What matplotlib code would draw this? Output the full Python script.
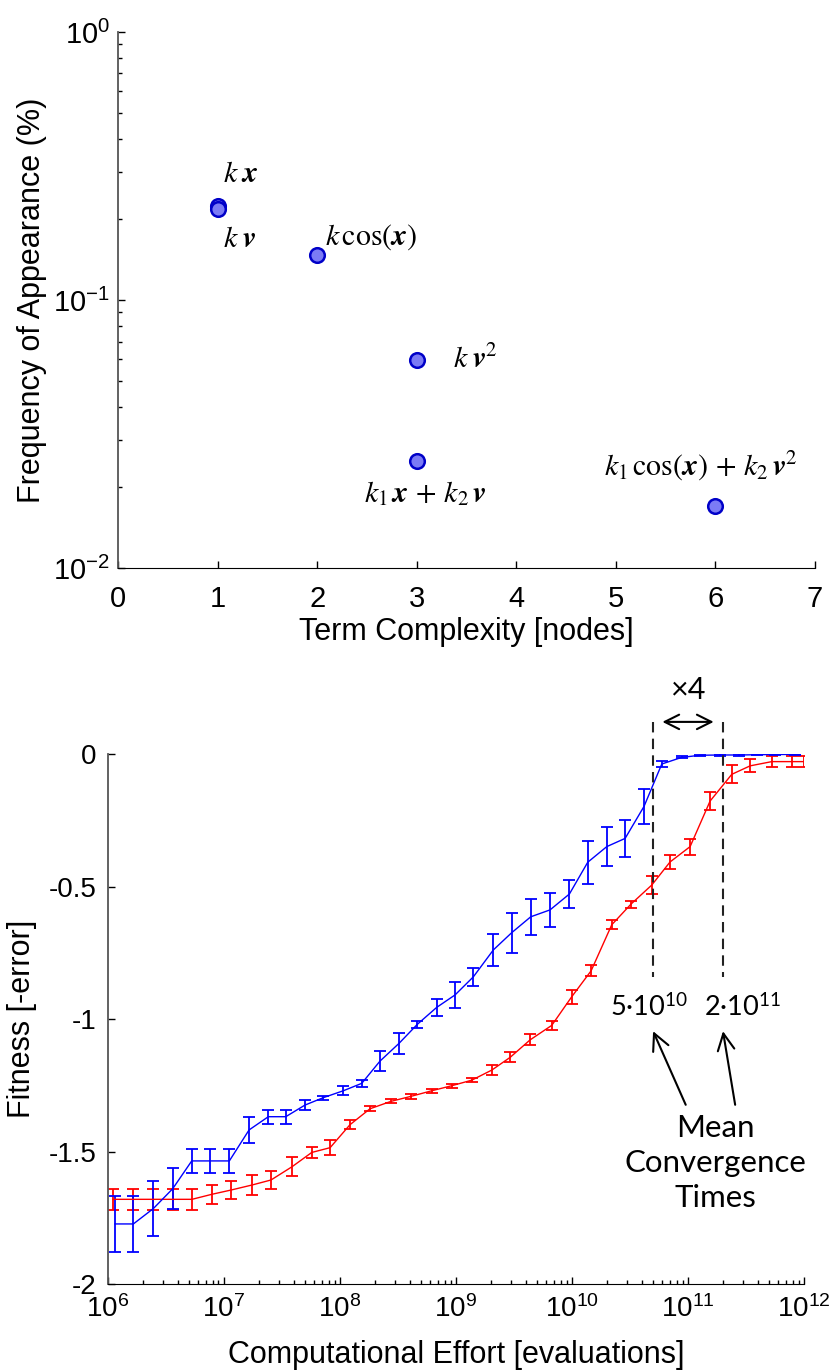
import numpy as np
import matplotlib
matplotlib.use("Agg")
import matplotlib.pyplot as plt
from matplotlib.ticker import FixedLocator, NullFormatter, FormatStrFormatter, LogFormatterSciNotation

plt.rcParams['font.family'] = ['Liberation Sans', 'DejaVu Sans']
plt.rcParams['mathtext.fontset'] = 'stix'
plt.rcParams['axes.unicode_minus'] = False

# --- top panel: how often each term shows up vs its size ---
complexity = [1, 1, 2, 3, 3, 6]
frequency = [0.224, 0.219, 0.147, 0.0597, 0.0251, 0.0171]
term_labels = [r'$k\;\boldsymbol{x}$', r'$k\;\boldsymbol{v}$', r'$k\,\cos(\boldsymbol{x})$',
               r'$k\;\boldsymbol{v}^2$', r'$k_1\,\boldsymbol{x}\,+\,k_2\,\boldsymbol{v}$',
               r'$k_1\,\cos(\boldsymbol{x})\,+\,k_2\,\boldsymbol{v}^2$']

# --- bottom panel: fitness vs computational effort ---
blue_log_effort = [6.063, 6.221, 6.393, 6.560, 6.724, 6.882, 7.048, 7.218, 7.384, 7.534,
                   7.700, 7.858, 8.030, 8.189, 8.346, 8.510, 8.668, 8.835, 8.993, 9.150,
                   9.323, 9.481, 9.645, 9.811, 9.978, 10.136, 10.300, 10.458, 10.621, 10.774,
                   10.946, 11.104, 11.276, 11.440, 11.592, 11.750, 11.922]
blue_fitness = [-1.773, -1.773, -1.715, -1.640, -1.535, -1.535, -1.535, -1.418, -1.368, -1.368,
                -1.324, -1.296, -1.270, -1.242, -1.158, -1.091, -1.019, -0.955, -0.908, -0.840,
                -0.738, -0.673, -0.613, -0.587, -0.527, -0.407, -0.348, -0.317, -0.196, -0.036,
                -0.011, -0.003, -0.002, -0.002, -0.001, 0.0, 0.0]
blue_err = [0.105, 0.105, 0.103, 0.078, 0.044, 0.044, 0.044, 0.050, 0.026, 0.026,
            0.018, 0.008, 0.017, 0.014, 0.039, 0.039, 0.014, 0.031, 0.048, 0.033,
            0.060, 0.075, 0.069, 0.063, 0.054, 0.081, 0.074, 0.069, 0.066, 0.010,
            0.004, 0.002, 0.002, 0.002, 0.001, 0.001, 0.001]

red_log_effort = [6.046, 6.218, 6.390, 6.563, 6.726, 6.898, 7.062, 7.243, 7.407, 7.588,
                  7.758, 7.916, 8.088, 8.260, 8.441, 8.614, 8.792, 8.964, 9.137, 9.309,
                  9.467, 9.639, 9.826, 9.998, 10.165, 10.343, 10.509, 10.688, 10.845, 11.018,
                  11.190, 11.377, 11.535, 11.722, 11.894, 12.0]
red_fitness = [-1.680, -1.680, -1.680, -1.680, -1.680, -1.661, -1.645, -1.626, -1.607, -1.557,
               -1.503, -1.485, -1.398, -1.338, -1.310, -1.291, -1.270, -1.251, -1.230, -1.192,
               -1.144, -1.078, -1.023, -0.915, -0.817, -0.643, -0.565, -0.493, -0.406, -0.348,
               -0.176, -0.075, -0.043, -0.027, -0.027, -0.027]
red_err = [0.040, 0.040, 0.040, 0.040, 0.040, 0.036, 0.034, 0.037, 0.033, 0.035,
           0.022, 0.028, 0.018, 0.010, 0.008, 0.009, 0.008, 0.007, 0.008, 0.019,
           0.019, 0.021, 0.018, 0.026, 0.021, 0.018, 0.013, 0.033, 0.028, 0.030,
           0.035, 0.034, 0.024, 0.022, 0.022, 0.022]

convergence = [5e10, 2e11]
convergence_labels = ['5\u00b710$^{\\mathdefault{10}}$', '2\u00b710$^{\\mathdefault{11}}$']


def log_minor(lo, hi):
    return [m * 10.0 ** e for e in range(lo, hi) for m in range(2, 10)]


fig = plt.figure(figsize=(8.33, 13.72), dpi=100)

# ---------------- top ----------------
ax1 = fig.add_axes([0.142, 0.586, 0.836, 0.3907])
ax1.set_yscale('log')
ax1.plot(complexity, frequency, 'o', ms=10.5, mfc='#7b7bf5', mec='#0000c8', mew=1.8,
         clip_on=False, zorder=3)

# label offsets in pixels from each point, and horizontal alignment
label_offsets = [(5, 32, 'left'), (5, -30, 'left'), (8, 18, 'left'),
                 (36, 0, 'left'), (8, -33, 'center'), (-14, 39, 'center')]
for x, y, lab, (dx, dy, ha) in zip(complexity, frequency, term_labels, label_offsets):
    ax1.annotate(lab, (x, y), xytext=(dx, dy), textcoords='offset pixels',
                 ha=ha, va='center', fontsize=21.5)

ax1.set_xlim(0, 7)
ax1.set_ylim(1e-2, 1)
ax1.set_xticks(range(8))
ax1.yaxis.set_major_locator(FixedLocator([1e-2, 1e-1, 1e0]))
ax1.yaxis.set_major_formatter(LogFormatterSciNotation())
ax1.yaxis.set_minor_locator(FixedLocator(log_minor(-2, 0)))
ax1.yaxis.set_minor_formatter(NullFormatter())
ax1.tick_params(which='major', direction='in', length=5, width=1, labelsize=21)
ax1.tick_params(axis='x', pad=12)
ax1.tick_params(axis='y', pad=6)
ax1.tick_params(which='minor', direction='in', length=3, width=1)
ax1.set_xlabel('Term Complexity [nodes]', fontsize=22)
ax1.set_ylabel('Frequency of Appearance (%)', fontsize=22)
ax1.xaxis.set_label_coords(0.5, -0.119)
ax1.yaxis.set_label_coords(-0.124, 0.5)
ax1.xaxis.label.set_va('center')
ax1.yaxis.label.set_va('center')
for side in ['top', 'right']:
    ax1.spines[side].set_visible(False)
ax1.spines['left'].set_color('#555555')
ax1.spines['left'].set_linewidth(1.3)

# ---------------- bottom ----------------
ax2 = fig.add_axes([0.1293, 0.0641, 0.836, 0.386])
ax2.set_xscale('log')
ax2.errorbar(10.0 ** np.array(red_log_effort), red_fitness, yerr=red_err, color='#ff0000',
             lw=1, elinewidth=1.3, capsize=4.5, capthick=1.3)
ax2.errorbar(10.0 ** np.array(blue_log_effort), blue_fitness, yerr=blue_err, color='#0000ff',
             lw=1, elinewidth=1.3, capsize=4.5, capthick=1.3)

ax2.set_xlim(1e6, 1e12)
ax2.set_ylim(-2, 0)
ax2.set_yticks([0, -0.5, -1, -1.5, -2])
ax2.yaxis.set_major_formatter(FormatStrFormatter('%g'))
ax2.xaxis.set_major_locator(FixedLocator([10.0 ** e for e in range(6, 13)]))
ax2.xaxis.set_major_formatter(LogFormatterSciNotation())
ax2.xaxis.set_minor_locator(FixedLocator(log_minor(6, 12)))
ax2.xaxis.set_minor_formatter(NullFormatter())
ax2.tick_params(which='major', direction='in', length=5, width=1, labelsize=20)
ax2.tick_params(which='minor', direction='in', length=3, width=1)
ax2.tick_params(axis='x', pad=8)
ax2.tick_params(axis='y', pad=8)
ax2.set_xlabel('Computational Effort [evaluations]', fontsize=22)
ax2.set_ylabel('Fitness [-error]', fontsize=22)
ax2.xaxis.set_label_coords(0.5, -0.134)
ax2.yaxis.set_label_coords(-0.123, 0.5)
ax2.xaxis.label.set_va('center')
ax2.yaxis.label.set_va('center')
for side in ['top', 'right']:
    ax2.spines[side].set_visible(False)
ax2.spines['left'].set_color('#555555')
ax2.spines['left'].set_linewidth(1.3)

# mean convergence times
note_font = ['Lato', 'DejaVu Sans']
for xc, lab, dx in zip(convergence, convergence_labels, [-4, 20]):
    ax2.plot([xc, xc], [0.123, -0.84], color='#222222', lw=1.5, ls=(0, (5, 3)),
             clip_on=False, zorder=4)
    ax2.annotate(lab, (xc, -0.955), xytext=(dx, 0), textcoords='offset pixels',
                 ha='center', va='center', fontsize=19.5, family=note_font)

shift = 10 ** 0.08
ax2.annotate('', xy=(convergence[1] / shift, 0.123), xytext=(convergence[0] * shift, 0.123),
             arrowprops=dict(arrowstyle='<->', lw=1.5, color='black', mutation_scale=26,
                             shrinkA=0, shrinkB=0),
             annotation_clip=False)
ax2.text(np.sqrt(convergence[0] * convergence[1]), 0.244, '×4', ha='center', va='center',
         fontsize=22, family=note_font)

blend = ax2.get_yaxis_transform()
ax2.text(0.872, -1.543, 'Mean\nConvergence\nTimes', transform=blend, ha='center',
         va='center', fontsize=22.5, family=note_font, linespacing=1.3)
for xc, tail in zip(convergence, [0.830, 0.901]):
    ax2.annotate('', xy=(xc, -1.045), xytext=(tail, -1.323), textcoords=blend,
                 arrowprops=dict(arrowstyle='->', lw=1.5, color='black', mutation_scale=30,
                                 shrinkA=0, shrinkB=0),
                 annotation_clip=False)

fig.savefig('out.png', dpi=100)
